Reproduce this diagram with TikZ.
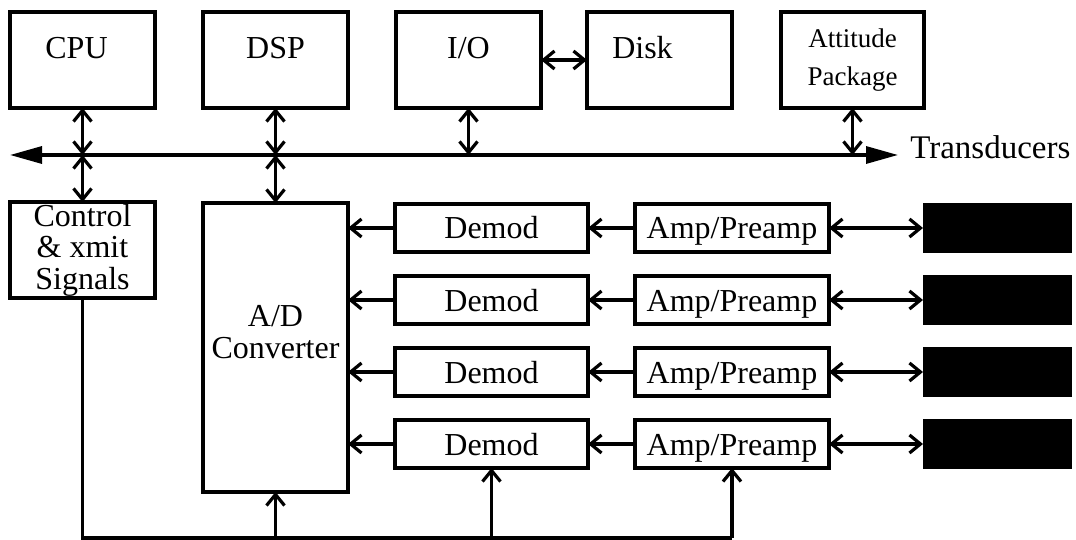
\documentclass[tikz,border=0pt]{standalone}
\usepackage{fontspec}
\setmainfont{Liberation Serif}
\usetikzlibrary{arrows.meta, positioning}

\begin{document}
\begin{tikzpicture}[x=1pt, y=-1pt,
      line width=3.2pt,
      every node/.style={font=\fontsize{32pt}{32pt}\selectfont, outer sep=0pt},
      box/.style={rectangle, draw, inner sep=0pt, align=center},
      topbox/.style={box, minimum width=145pt, minimum height=96pt},
      toptext/.style={text height=22pt, text depth=24pt},
      rowbox/.style={box, minimum height=48pt, text height=22pt, text depth=0pt},
      xdcr/.style={rectangle, fill=black, minimum width=149pt, minimum height=50pt},
      arr/.style={-{Straight Barb[length=11pt,width=18pt]}},
      darr/.style={{Straight Barb[length=11pt,width=18pt]}-{Straight Barb[length=11pt,width=18pt]}},
      busarr/.style={{Triangle[length=32pt,width=17pt]}-{Triangle[length=32pt,width=17pt]}}
    ]
    \useasboundingbox (0,0) rectangle (1076,540);

    % top row
    \node[topbox, toptext] (cpu) at (82.5,60) {CPU\hspace*{12pt}};
    \node[topbox, toptext, right=48pt of cpu] (dsp) {DSP};
    \node[topbox, toptext, right=48pt of dsp] (io) {I/O};
    \node[topbox, toptext, right=46pt of io] (disk) {Disk\hspace*{34pt}};
    \node[topbox, right=49pt of disk, minimum width=143pt,
          font=\fontsize{27pt}{38pt}\selectfont] (att) {Attitude\\Package};

    % bus
    \coordinate (busL) at (10,155);
    \coordinate (busR) at (898,155);
    \draw[busarr] (busL) -- (busR);
    \node[anchor=base west, font=\fontsize{33pt}{33pt}\selectfont] (xdlbl) at (907,159) {Transducers};

    % left blocks
    \node[topbox, below=94pt of cpu, font=\fontsize{32pt}{31.5pt}\selectfont] (ctrl) {Control\\\& xmit\\Signals};
    \node[box, below=95pt of dsp, minimum width=145pt, minimum height=289pt] (ad) {A/D\\Converter\\\mbox{}};

    % channels
    \node[rowbox, minimum width=193pt] (dem1) at (491.5,228) {Demod};
    \node[rowbox, minimum width=193pt, below=24pt of dem1] (dem2) {Demod};
    \node[rowbox, minimum width=193pt, below=24pt of dem2] (dem3) {Demod};
    \node[rowbox, minimum width=193pt, below=24pt of dem3] (dem4) {Demod};
    \node[rowbox, minimum width=194pt, right=47pt of dem1] (amp1) {Amp/Preamp};
    \node[rowbox, minimum width=194pt, right=47pt of dem2] (amp2) {Amp/Preamp};
    \node[rowbox, minimum width=194pt, right=47pt of dem3] (amp3) {Amp/Preamp};
    \node[rowbox, minimum width=194pt, right=47pt of dem4] (amp4) {Amp/Preamp};
    \node[xdcr, right=94pt of amp1] (xd1) {};
    \node[xdcr, right=94pt of amp2] (xd2) {};
    \node[xdcr, right=94pt of amp3] (xd3) {};
    \node[xdcr, right=94pt of amp4] (xd4) {};

    % bus taps
    \draw[darr] (cpu) -- (cpu |- busL);
    \draw[darr] (cpu |- busL) -- (ctrl);
    \draw[darr] (dsp) -- (dsp |- busL);
    \draw[darr] (dsp |- busL) -- (ad);
    \draw[darr] (io) -- (io |- busL);
    \draw[darr] (att) -- (att |- busL);
    \draw[darr] (io) -- (disk);

    % signal paths
    \draw[arr] (dem1) -- (dem1 -| ad.east);
    \draw[arr] (dem2) -- (dem2 -| ad.east);
    \draw[arr] (dem3) -- (dem3 -| ad.east);
    \draw[arr] (dem4) -- (dem4 -| ad.east);
    \draw[arr] (amp1) -- (dem1);
    \draw[arr] (amp2) -- (dem2);
    \draw[arr] (amp3) -- (dem3);
    \draw[arr] (amp4) -- (dem4);
    \draw[darr] (amp1) -- (xd1);
    \draw[darr] (amp2) -- (xd2);
    \draw[darr] (amp3) -- (xd3);
    \draw[darr] (amp4) -- (xd4);

    % control lines
    \coordinate (base) at (0,538);
    \draw (ctrl) |- (amp4 |- base);
    \draw[arr] (ad |- base) -- (ad);
    \draw[arr] (dem4 |- base) -- (dem4);
    \draw[arr] (amp4 |- base) -- (amp4);
  \end{tikzpicture}
\end{document}
